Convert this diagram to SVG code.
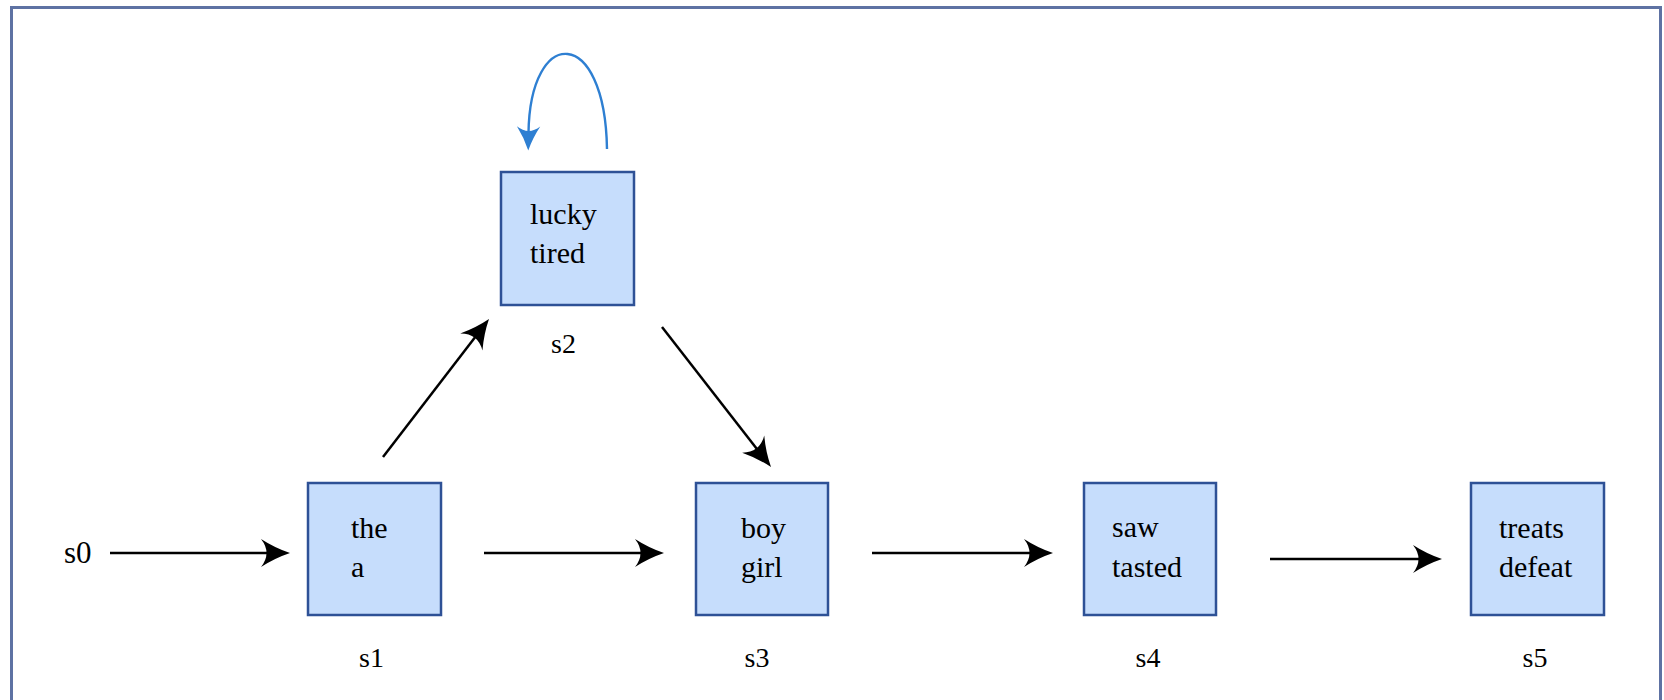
<svg xmlns="http://www.w3.org/2000/svg" width="1664" height="700" viewBox="0 0 1664 700">
<style>
.frame{fill:#ffffff;stroke:#5e72a3;stroke-width:3}
.box{fill:#c6ddfc;stroke:#2e5196;stroke-width:2.5}
.t{font-family:"Liberation Serif","Times New Roman",serif;font-size:30px;fill:#000}
.lbl{font-family:"Liberation Serif","Times New Roman",serif;font-size:28px;fill:#000}
.mid{text-anchor:middle}
.edge{fill:none;stroke:#000;stroke-width:2.5;marker-end:url(#ah)}
.loop{fill:none;stroke:#2e7fd2;stroke-width:2.4;marker-end:url(#ahb)}
</style>
<defs>
<marker id="ah" viewBox="0 0 30 30" refX="8" refY="15" markerWidth="30" markerHeight="30" markerUnits="userSpaceOnUse" orient="auto">
<path d="M29,15 Q14,10 0,1 Q11,15 0,29 Q14,20 29,15 Z" fill="#000"/>
</marker>
<marker id="ahb" viewBox="0 0 30 30" refX="8" refY="15" markerWidth="25" markerHeight="25" markerUnits="userSpaceOnUse" orient="auto">
<path d="M29,15 Q14,10 0,1 Q11,15 0,29 Q14,20 29,15 Z" fill="#2e7fd2"/>
</marker>
</defs>
<rect class="frame" x="11.5" y="7.5" width="1649" height="720"/>
<g id="connectors">
<line class="edge" x1="110" y1="553" x2="269" y2="553"/>
<line class="edge" x1="484" y1="553" x2="643" y2="553"/>
<line class="edge" x1="872" y1="553" x2="1032" y2="553"/>
<line class="edge" x1="1270" y1="559" x2="1421" y2="559"/>
<line class="edge" x1="383" y1="457" x2="476.2" y2="335.7"/>
<line class="edge" x1="662" y1="327" x2="758.1" y2="450.4"/>
<path class="loop" d="M607,149 C605,25 530,25 528.5,133"/>
</g>
<g id="s0">
<text class="lbl" x="64" y="563" style="font-size:31px">s0</text>
</g>
<g id="s1">
<rect class="box" x="308" y="483" width="133" height="132"/>
<text class="t" x="351" y="538">the</text>
<text class="t" x="351" y="577">a</text>
<text class="lbl mid" x="371.5" y="667">s1</text>
</g>
<g id="s2">
<rect class="box" x="501" y="172" width="133" height="133"/>
<text class="t" x="530" y="224">lucky</text>
<text class="t" x="530" y="263">tired</text>
<text class="lbl mid" x="563.5" y="353">s2</text>
</g>
<g id="s3">
<rect class="box" x="696" y="483" width="132" height="132"/>
<text class="t" x="741" y="538">boy</text>
<text class="t" x="741" y="577">girl</text>
<text class="lbl mid" x="757" y="667">s3</text>
</g>
<g id="s4">
<rect class="box" x="1084" y="483" width="132" height="132"/>
<text class="t" x="1112" y="537">saw</text>
<text class="t" x="1112" y="577">tasted</text>
<text class="lbl mid" x="1148" y="667">s4</text>
</g>
<g id="s5">
<rect class="box" x="1471" y="483" width="133" height="132"/>
<text class="t" x="1499" y="538">treats</text>
<text class="t" x="1499" y="577">defeat</text>
<text class="lbl mid" x="1535" y="667">s5</text>
</g>
</svg>
